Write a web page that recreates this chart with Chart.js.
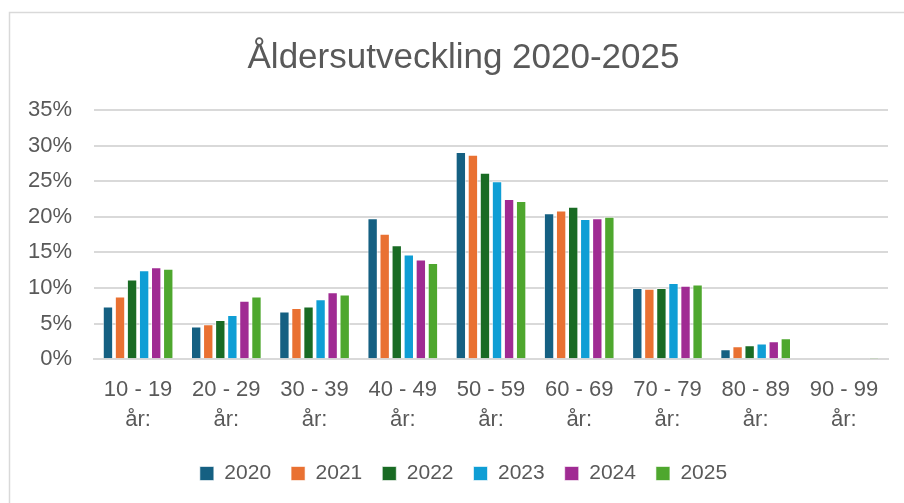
<!DOCTYPE html>
<html>
<head>
<meta charset="utf-8">
<script src="https://cdn.jsdelivr.net/npm/chart.js@4.4.1/dist/chart.umd.min.js"></script>
<style>
html,body{margin:0;padding:0;background:#fff;}
#wrap{position:relative;width:904px;height:503px;}
</style>
</head>
<body>
<div id="wrap"><canvas id="c" width="904" height="503"></canvas></div>
<script>
const categories = [["10 - 19","år:"],["20 - 29","år:"],["30 - 39","år:"],["40 - 49","år:"],["50 - 59","år:"],["60 - 69","år:"],["70 - 79","år:"],["80 - 89","år:"],["90 - 99","år:"]];
const years = ["2020","2021","2022","2023","2024","2025"];
const v2020 = [7.4, 4.6, 6.7, 19.8, 29.1, 20.5, 10.0, 1.4, 0.0];
const v2021 = [8.8, 4.9, 7.2, 17.6, 28.7, 20.9, 9.9, 1.8, 0.0];
const v2022 = [11.2, 5.5, 7.4, 16.0, 26.2, 21.4, 10.0, 1.95, 0.0];
const v2023 = [12.5, 6.2, 8.4, 14.7, 25.0, 19.7, 10.7, 2.2, 0.0];
const v2024 = [12.9, 8.2, 9.4, 14.0, 22.5, 19.8, 10.3, 2.5, 0.0];
const v2025 = [12.7, 8.8, 9.1, 13.5, 22.2, 20.0, 10.5, 2.95, 0.05];
const colors = ["#156082","#E97132","#196B24","#0F9ED5","#A02B93","#4EA72E"];
const yTicks = [0,5,10,15,20,25,30,35];

const series = [v2020,v2021,v2022,v2023,v2024,v2025];
const FONT = "'Liberation Sans', Arial, sans-serif";
const TXT = "#595959";

const borderPlugin = {
  id:'frame',
  beforeDraw(chart){
    const ctx = chart.ctx;
    ctx.save();
    ctx.fillStyle = '#fff';
    ctx.fillRect(0,0,chart.width,chart.height);
    ctx.strokeStyle = '#d9d9d9';
    ctx.lineWidth = 1.5;
    ctx.beginPath();
    ctx.moveTo(9.5, 503);
    ctx.lineTo(9.5, 12.5);
    ctx.lineTo(904, 12.5);
    ctx.stroke();
    ctx.restore();
  }
};

new Chart(document.getElementById('c'), {
  type: 'bar',
  data: {
    labels: categories,
    datasets: years.map((y,i)=>({
      label: y,
      data: series[i],
      backgroundColor: colors[i],
      borderColor: 'rgba(255,255,255,0.6)',
      borderWidth: 1,
      categoryPercentage: 0.82,
      barPercentage: 0.86
    }))
  },
  options: {
    responsive: false,
    animation: false,
    devicePixelRatio: 1,
    layout: { padding: { left: 26, right: 3, top: 22, bottom: 9 } },
    plugins: {
      title: {
        display: true,
        text: 'Åldersutveckling 2020-2025',
        color: TXT,
        font: { family: FONT, size: 35, weight: 'normal' },
        padding: { top: 15, bottom: 31 }
      },
      legend: {
        position: 'bottom',
        labels: {
          color: TXT,
          font: { family: FONT, size: 21 },
          boxWidth: 14, boxHeight: 14,
          padding: 20
        }
      },
      tooltip: { enabled: false }
    },
    scales: {
      x: {
        grid: { display: false },
        border: { color: '#d9d9d9', width: 2 },
        ticks: {
          color: TXT,
          font: { family: FONT, size: 22, lineHeight: 1.36 },
          maxRotation: 0, autoSkip: false, padding: 8
        }
      },
      y: {
        min: 0, max: 35,
        afterBuildTicks(axis){ axis.ticks = yTicks.map(v=>({value:v})); },
        afterFit(axis){ axis.width = 68; },
        grid: { color: '#d9d9d9', lineWidth: 2, drawTicks: false },
        border: { display: false },
        ticks: {
          color: TXT,
          font: { family: FONT, size: 22 },
          padding: 22,
          callback: v => v + '%'
        }
      },
      yPad: {
        type: 'linear',
        position: 'right',
        display: true,
        min: 0, max: 35,
        grid: { display: false, drawTicks: false },
        border: { display: false },
        ticks: { display: false },
        afterFit(axis){ axis.width = 13; }
      }
    }
  },
  plugins: [borderPlugin]
});
</script>
</body>
</html>
